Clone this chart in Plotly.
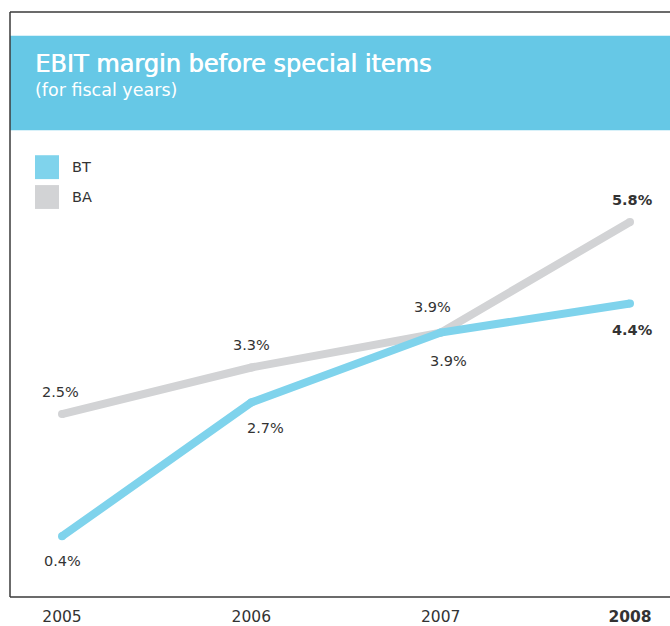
import plotly.graph_objects as go

# Fiscal years and EBIT margin before special items (%)
years = [2005, 2006, 2007, 2008]
bt_margin = [0.4, 2.7, 3.9, 4.4]
ba_margin = [2.5, 3.3, 3.9, 5.8]
tick_labels = ["2005", "2006", "2007", "<b>2008</b>"]
bt_labels = ["0.4%", "2.7%", "3.9%", "<b>4.4%</b>"]
ba_labels = ["2.5%", "3.3%", "3.9%", "<b>5.8%</b>"]

BT_COLOR = "#7fd3ec"
BA_COLOR = "#d2d3d5"
BAND_COLOR = "#66c8e6"
TEXT_COLOR = "#333333"
FONT = "DejaVu Sans"

W, H = 670, 626
BOTTOM = 26  # space below the baseline for year labels


def py(px):
    """Convert a pixel row (from top) to paper y."""
    return 1 - px / (H - BOTTOM)


fig = go.Figure()

# Thick lines; round markers of the same diameter give rounded ends and joins
fig.add_trace(go.Scatter(x=years, y=ba_margin, mode="lines+markers", name="BA",
                         line=dict(color=BA_COLOR, width=8),
                         marker=dict(color=BA_COLOR, size=8, line=dict(width=0)),
                         showlegend=False))
fig.add_trace(go.Scatter(x=years, y=bt_margin, mode="lines+markers", name="BT",
                         line=dict(color=BT_COLOR, width=8),
                         marker=dict(color=BT_COLOR, size=8, line=dict(width=0)),
                         showlegend=False))

# Value labels: BA above its line, BT below (with small nudges where crowded)
ba_shift = [(-2, 22), (0, 23), (-8, 26), (2, 22)]
bt_shift = [(0, -25), (14, -26), (8, -28), (2, -27)]
for x, v, lab, (dx, dy) in zip(years, ba_margin, ba_labels, ba_shift):
    fig.add_annotation(x=x, y=v, text=lab, showarrow=False, xshift=dx, yshift=dy,
                       font=dict(family=FONT, size=14.5, color=TEXT_COLOR))
for x, v, lab, (dx, dy) in zip(years, bt_margin, bt_labels, bt_shift):
    fig.add_annotation(x=x, y=v, text=lab, showarrow=False, xshift=dx, yshift=dy,
                       font=dict(family=FONT, size=14.5, color=TEXT_COLOR))

# Header band and frame
shapes = [
    dict(type="rect", xref="paper", yref="paper", x0=10 / W, x1=1, y0=py(131), y1=py(36),
         fillcolor=BAND_COLOR, line=dict(width=0), layer="below"),
    dict(type="line", xref="paper", yref="paper", x0=10 / W, x1=1, y0=py(12), y1=py(12),
         line=dict(color="#3a3a3a", width=1.5)),
    dict(type="line", xref="paper", yref="paper", x0=10 / W, x1=10 / W, y0=py(12), y1=0,
         line=dict(color="#3a3a3a", width=1.5)),
    dict(type="line", xref="paper", yref="paper", x0=10 / W, x1=1, y0=0, y1=0,
         line=dict(color="#3a3a3a", width=1.5)),
    # legend swatches
    dict(type="rect", xref="paper", yref="paper", x0=35 / W, x1=59 / W, y0=py(180), y1=py(156),
         fillcolor=BT_COLOR, line=dict(width=0)),
    dict(type="rect", xref="paper", yref="paper", x0=35 / W, x1=59 / W, y0=py(210), y1=py(186),
         fillcolor=BA_COLOR, line=dict(width=0)),
]

annotations_extra = [
    dict(xref="paper", yref="paper", x=33 / W, y=py(64), text="EBIT margin before special items",
         showarrow=False, xanchor="left", yanchor="middle",
         font=dict(family=FONT, size=24, color="white",
                   shadow="0.7px 0 0 white")),
    dict(xref="paper", yref="paper", x=33 / W, y=py(90), text="(for fiscal years)",
         showarrow=False, xanchor="left", yanchor="middle",
         font=dict(family=FONT, size=17.5, color="white")),
    dict(xref="paper", yref="paper", x=70 / W, y=py(168), text="BT",
         showarrow=False, xanchor="left", yanchor="middle",
         font=dict(family=FONT, size=14.5, color=TEXT_COLOR)),
    dict(xref="paper", yref="paper", x=70 / W, y=py(198), text="BA",
         showarrow=False, xanchor="left", yanchor="middle",
         font=dict(family=FONT, size=14.5, color=TEXT_COLOR)),
]
for a in annotations_extra:
    fig.add_annotation(**a)

# Axis ranges chosen so 2005..2008 sit at x=62..630 px and 1 pt = 58.5 px
px_per_year = (630 - 62) / 3
x_lo = 2005 - 62 / px_per_year
x_hi = 2008 + (W - 630) / px_per_year
px_per_pt = 58.5
zero_px = 539 + 0.4 * px_per_pt
y_lo = -(H - BOTTOM - zero_px) / px_per_pt
y_hi = zero_px / px_per_pt

fig.update_layout(
    width=W, height=H,
    margin=dict(l=0, r=0, t=0, b=BOTTOM),
    paper_bgcolor="white", plot_bgcolor="white",
    showlegend=False,
    shapes=shapes,
    xaxis=dict(range=[x_lo, x_hi], tickvals=years, ticktext=tick_labels,
               showgrid=False, zeroline=False, showline=False, ticks="",
               ticklabelstandoff=8,
               tickfont=dict(family=FONT, size=15.5, color=TEXT_COLOR)),
    yaxis=dict(range=[y_lo, y_hi], visible=False, showgrid=False, zeroline=False),
)

fig.write_html("out.html")
